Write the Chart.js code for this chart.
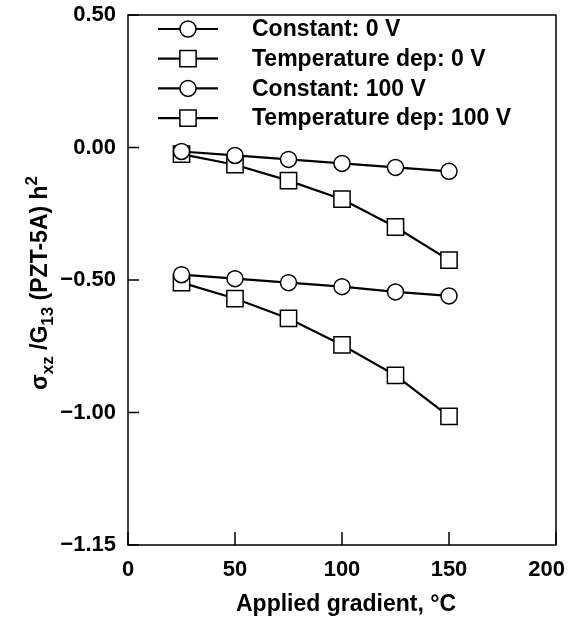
<!DOCTYPE html>
<html>
<head>
<meta charset="utf-8">
<script src="https://cdn.jsdelivr.net/npm/chart.js@4.4.1/dist/chart.umd.min.js"></script>
<style>
  html, body { margin: 0; padding: 0; background: #fff; }
  #wrap { width: 570px; height: 619px; }
</style>
</head>
<body>
<div id="wrap"><canvas id="chart" width="570" height="619"></canvas></div>
<script>
const gradients = [25, 50, 75, 100, 125, 150];
const seriesNames = ['Constant: 0 V', 'Temperature dep: 0 V', 'Constant: 100 V', 'Temperature dep: 100 V'];
const constant0V = [-0.015, -0.03, -0.045, -0.06, -0.075, -0.09];
const tempDep0V = [-0.025, -0.065, -0.125, -0.195, -0.30, -0.425];
const constant100V = [-0.48, -0.495, -0.51, -0.525, -0.545, -0.56];
const tempDep100V = [-0.51, -0.57, -0.645, -0.745, -0.86, -1.015];
const xTickValues = [0, 50, 100, 150, 200];
const xTickLabels = ['0', '50', '100', '150', '200'];
const yTickValues = [0.5, 0, -0.5, -1.0, -1.5];
const yTickLabels = ['0.50', '0.00', '\u22120.50', '\u22121.00', '\u22121.15'];

const FONT = "'Liberation Sans', Arial, Helvetica, sans-serif";
Chart.defaults.font.family = FONT;
Chart.defaults.font.weight = 'bold';
Chart.defaults.font.size = 22;
Chart.defaults.color = '#000';

function series(label, values, style) {
  return {
    label: label,
    data: values.map((v, i) => ({ x: gradients[i], y: v })),
    borderColor: '#000',
    borderWidth: 2.2,
    backgroundColor: '#fff',
    pointStyle: style,
    pointRadius: style === 'rect' ? 11.5 : 8,
    pointBorderWidth: 1.5,
    pointBackgroundColor: '#fff',
    pointBorderColor: '#000',
    tension: 0
  };
}

// frame, inward ticks, x labels, axis titles and the legend
const decorations = {
  id: 'decorations',
  afterDraw(chart) {
    const ctx = chart.ctx;
    const a = chart.chartArea;
    const xs = chart.scales.x, ys = chart.scales.y;
    ctx.save();
    ctx.strokeStyle = '#000';
    ctx.lineWidth = 1.5;
    ctx.strokeRect(a.left, a.top, a.right - a.left, a.bottom - a.top);

    ctx.beginPath();
    xTickValues.forEach(v => {
      const px = xs.getPixelForValue(v);
      ctx.moveTo(px, a.bottom);
      ctx.lineTo(px, a.bottom - 13);
    });
    yTickValues.forEach(v => {
      const py = ys.getPixelForValue(v);
      ctx.moveTo(a.left, py);
      ctx.lineTo(a.left + 11, py);
    });
    ctx.stroke();

    ctx.fillStyle = '#000';
    ctx.font = 'bold 22px ' + FONT;
    ctx.textAlign = 'center';
    ctx.textBaseline = 'middle';
    xTickLabels.forEach((t, i) => {
      const w = ctx.measureText(t).width;
      let px = xs.getPixelForValue(xTickValues[i]);
      px = Math.min(px, chart.width - 5 - w / 2);
      ctx.fillText(t, px, 570);
    });

    ctx.font = 'bold 23px ' + FONT;
    ctx.fillText('Applied gradient, \u00B0C', 346, 605);

    // y title with sub/superscripts
    const parts = [
      { t: '\u03C3', s: 23, dy: 0 },
      { t: 'xz', s: 17, dy: 6 },
      { t: ' /G', s: 23, dy: 0 },
      { t: '13', s: 17, dy: 6 },
      { t: ' (PZT-5A) h', s: 23, dy: 0 },
      { t: '2', s: 17, dy: -10 }
    ];
    let total = 0;
    parts.forEach(p => { ctx.font = 'bold ' + p.s + 'px ' + FONT; p.w = ctx.measureText(p.t).width; total += p.w; });
    ctx.translate(47, 283);
    ctx.rotate(-Math.PI / 2);
    ctx.textAlign = 'left';
    ctx.textBaseline = 'alphabetic';
    let cx = -total / 2;
    parts.forEach(p => {
      ctx.font = 'bold ' + p.s + 'px ' + FONT;
      ctx.fillText(p.t, cx, p.dy);
      cx += p.w;
    });
    ctx.setTransform(1, 0, 0, 1, 0, 0);

    // legend
    ctx.font = 'bold 23px ' + FONT;
    ctx.textBaseline = 'middle';
    chart.data.datasets.forEach((ds, i) => {
      const y = 29 + i * 29.7;
      ctx.lineWidth = 2.2;
      ctx.beginPath();
      ctx.moveTo(158, y);
      ctx.lineTo(218, y);
      ctx.stroke();
      ctx.fillStyle = '#fff';
      ctx.lineWidth = 1.5;
      ctx.beginPath();
      if (ds.pointStyle === 'rect') {
        const h = ds.pointRadius * Math.SQRT1_2;
        ctx.rect(188 - h, y - h, 2 * h, 2 * h);
      } else {
        ctx.arc(188, y, ds.pointRadius, 0, Math.PI * 2);
      }
      ctx.fill();
      ctx.stroke();
      ctx.fillStyle = '#000';
      ctx.fillText(ds.label, 252, y + 1);
    });
    ctx.restore();
  }
};

new Chart(document.getElementById('chart'), {
  type: 'line',
  data: {
    datasets: [
      series(seriesNames[0], constant0V, 'circle'),
      series(seriesNames[1], tempDep0V, 'rect'),
      series(seriesNames[2], constant100V, 'circle'),
      series(seriesNames[3], tempDep100V, 'rect')
    ]
  },
  options: {
    responsive: false,
    animation: false,
    layout: { padding: { top: 15, right: 14, left: 0, bottom: 0 } },
    plugins: { legend: { display: false }, tooltip: { enabled: false } },
    scales: {
      x: {
        type: 'linear',
        min: 0,
        max: 200,
        grid: { display: false, drawTicks: false },
        border: { display: false },
        ticks: { display: false },
        afterFit(scale) { scale.height = 74; scale.paddingLeft = 0; scale.paddingRight = 0; }
      },
      y: {
        type: 'linear',
        min: -1.5,
        max: 0.5,
        grid: { display: false, drawTicks: false },
        border: { display: false },
        afterBuildTicks(scale) { scale.ticks = yTickValues.map(v => ({ value: v })); },
        ticks: {
          padding: 12,
          font: { size: 22, weight: 'bold' },
          callback: (v) => yTickLabels[yTickValues.indexOf(v)]
        },
        afterFit(scale) { scale.width = 128; scale.paddingTop = 0; scale.paddingBottom = 0; }
      }
    }
  },
  plugins: [decorations]
});
</script>
</body>
</html>
